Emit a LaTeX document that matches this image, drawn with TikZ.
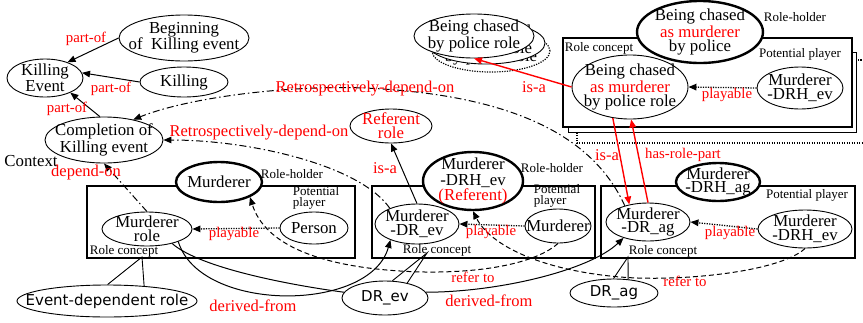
\documentclass[tikz,border=0pt]{standalone}
\usepackage{fontspec}
\setmainfont{Liberation Serif}
\newfontfamily\dvsans{DejaVu Sans}
\usetikzlibrary{shapes.geometric,arrows.meta}
\begin{document}
\begin{tikzpicture}[x=1pt,y=-1pt,
  ell/.style 2 args={draw, ellipse, fill=white, inner sep=0pt,
    minimum width=#1, minimum height=#2, line width=0.9pt},
  holder/.style={line width=2.4pt},
  ntxt/.style={font=\fontsize{16.8}{13.8}\selectfont, align=center, inner sep=0pt},
  stxt/.style={font=\dvsans\fontsize{15}{15}\selectfont, inner sep=0pt},
  et/.style={label={[ntxt]center:{#1}}},
  eb/.style={label={[ntxt,yshift=2pt]center:{#1}}},
  es/.style={label={[stxt]center:{#1}}},
  small/.style={font=\fontsize{13}{11.5}\selectfont, align=left, inner sep=0pt},
  rl/.style={text=red, font=\fontsize{14.8}{15}\selectfont, inner sep=0pt},
  rlb/.style={text=red, font=\fontsize{16.5}{16}\selectfont, inner sep=0pt},
  frame/.style={line width=2.6pt},
  tipA/.style={-{Triangle[length=8pt,width=6.5pt]}},
  arr/.style={tipA, line width=1pt},
  dotarr/.style={tipA, line width=1.3pt, dash pattern=on 1.2pt off 1.3pt},
  redarr/.style={tipA, draw=red, line width=1.4pt},
  dd/.style={line width=1pt, dash pattern=on 7pt off 3pt on 1.5pt off 3pt},
  dsh/.style={line width=0.9pt, dash pattern=on 5pt off 3pt}
]
\useasboundingbox (0,0) rectangle (863,322);

% ---- frames of the role concepts ----
\draw[line width=1.2pt, dash pattern=on 1.2pt off 1.3pt, fill=white] (577,60) rectangle (870,143);
\draw[line width=1pt, fill=white] (568,52) rectangle (856,132);
\draw[frame, fill=white] (563,38) rectangle (852,127);
\draw[frame] (87,186) rectangle (355,258);
\draw[frame] (372,186) rectangle (595,258);
\draw[frame] (601,186) rectangle (855,258);

% ---- killing event and its parts ----
\node[ell={76}{38}, et={Killing\\Event}] (KE) at (45,78) {};
\node[ell={130}{46}, et={Beginning\\of~~Killing event}] (BKE) at (184,38) {};
\node[ell={88}{30}, et={Killing}] (KIL) at (184,82) {};
\node[ell={118}{46}, et={Completion of\\Killing event}] (CKE) at (104,140) {};
\node[ntxt] (ctx) at (31,161) {Context};

% ---- being chased by police ----
\node[ell={118}{42}, dash pattern=on 1.2pt off 1.3pt, line width=1.2pt, eb={Being chased\\by police role}] (BC3) at (491,51) {};
\node[ell={118}{42}, eb={Being chased\\by police role}] (BC2) at (486,43) {};
\node[ell={120}{44}, et={Being chased\\by police role}] (BCPR) at (474,36) {};
\node[ell={126}{62}, holder, et={Being chased\\\textcolor{red}{as murderer}\\by police}] (BCMRH) at (700,32) {};
\node[small] (trh) at (795,17) {Role-holder};
\node[small] (trc) at (599,48) {Role concept};
\node[small] (tpp) at (800,54) {Potential player};
\node[ell={116}{64}, et={Being chased\\\textcolor{red}{as murderer}\\by police role}] (BCMPR) at (630,87) {};
\node[ell={86}{42}, et={Murderer\\-DRH\_ev}] (MRHev3) at (800,88) {};

% ---- left role concept ----
\node[ell={86}{40}, holder, et={Murderer}] (MRH) at (219,182) {};
\node[small] (lrh) at (292,174) {Role-holder};
\node[small] (lpp) at (316,198) {Potential\\player};
\node[ell={68}{32}, et={Person}] (PER) at (314,228) {};
\node[ell={90}{34}, et={Murderer\\role}] (MR) at (147,229) {};
\node[small] (lrc) at (124,251) {Role concept};

% ---- middle role concept ----
\node[ell={82}{34}, label={[ntxt,text=red]center:{Referent\\role}}] (RR) at (391,126) {};
\node[small] (mrh) at (552,168) {Role-holder};
\node[small] (mpp) at (557,196) {Potential\\player};
\node[ell={100}{58}, holder, label={[ntxt,font=\fontsize{16.8}{15.5}\selectfont]center:{Murderer\\-DRH\_ev\\\textcolor{red}{(Referent)}}}] (MRef) at (473,181) {};
\node[ell={66}{34}, et={Murderer}] (MPP) at (558,226) {};
\node[ell={84}{40}, et={Murderer\\-DR\_ev}] (MDRev) at (417,224) {};
\node[small] (mrc) at (437,250) {Role concept};

% ---- right role concept ----
\node[ell={84}{38}, holder, et={Murderer\\-DRH\_ag}] (MRHag) at (718,182) {};
\node[small] (rpp) at (807,195) {Potential player};
\node[ell={94}{38}, et={Murderer\\-DRH\_ev}] (MRHev2) at (805,229) {};
\node[ell={84}{38}, et={Murderer\\-DR\_ag}] (MDRag) at (648,222) {};
\node[small] (rrc) at (663,251) {Role concept};

% ---- kinds of role concept ----
\node[ell={180}{32}, es={Event-dependent role}] (EDR) at (107,301) {};
\node[ell={86}{34}, es={DR\_ev}] (DRev) at (385,298) {};
\node[ell={88}{28}, es={DR\_ag}] (DRag) at (614,293) {};

\coordinate (tipE) at (142,257);
\coordinate (tipD) at (427,253);
\coordinate (tipG) at (628,257);
\draw[line width=0.9pt] (EDR.88) -- (tipE) -- (EDR.22);
\draw[line width=0.9pt] (DRev.67) -- (tipD) -- (DRev.34);
\draw[line width=0.9pt] (DRag.92) -- (tipG) -- (DRag.44);

% ---- part-of ----
\draw[arr] (BKE.west) -- (KE.35);
\draw[arr] (KIL.west) -- (KE.8);
\draw[arr] (CKE.100) -- (KE.-30);

% ---- dependence ----
\draw[dd, arr] (MR.north) -- (CKE.south);
\draw[dd, arr] (MDRev.150) .. controls (360,165) and (250,140) .. (CKE.east);
\draw[dd, arr] (MDRag.145) .. controls (595,140) and (520,95) .. (365,88)
   .. controls (290,85) and (190,97) .. (CKE.35);

% ---- is-a, playable, has-role-part ----
\draw[arr] (MDRev.north) -- (RR.south);
\draw[dotarr] (PER.west) -- (MR.east);
\draw[dotarr] (MPP.west) -- (MDRev.east);
\draw[dotarr] (MRHev2.west) -- (MDRag.east);
\draw[dotarr] (MRHev3.west) -- (BCMPR.east);
\draw[redarr] (BCMPR.west) -- (BCPR.south);
\draw[redarr] (BCMPR.241) -- (MDRag.137);
\draw[redarr] (MDRag.90) -- (BCMPR.272);

% ---- refer to ----
\draw[dsh, arr] (MPP.south) .. controls (530,268) and (460,275) .. (400,271)
   .. controls (320,266) and (265,245) .. (MRH.-26);
\draw[dsh, arr] (MRHev2.south) .. controls (780,272) and (680,282) .. (620,277)
   .. controls (540,270) and (490,245) .. (MRef.south);

% ---- derived-from ----
\draw[arr] (MR.-22) .. controls (200,313) and (370,313) .. (MDRev.-149);
\draw[line width=1pt] (MR.-30) .. controls (200,268) and (290,285) .. (DRev.172);
\draw[arr] (DRev.8) .. controls (500,292) and (590,270) .. (MDRag.-147);

% ---- relation names ----
\node[rl] (l1) at (86,39) {part-of};
\node[rl] (l2) at (111,89) {part-of};
\node[rl] (l3) at (67,109) {part-of};
\node[rlb] (l4) at (86,173) {depend-on};
\node[rlb] (l5) at (259,133) {Retrospectively-depend-on};
\node[rlb] (l6) at (365,89) {Retrospectively-depend-on};
\node[rlb] (l7) at (385,168) {is-a};
\node[rlb] (l8) at (534,87) {is-a};
\node[rlb] (l9) at (607,155) {is-a};
\node[rl] (l10) at (683,155) {has-role-part};
\node[rl] (l11) at (234,234) {playable};
\node[rl] (l12) at (491,232) {playable};
\node[rl] (l13) at (730,233) {playable};
\node[rl] (l14) at (727,95) {playable};
\node[rl] (l15) at (473,277) {refer to};
\node[rl] (l16) at (685,281) {refer to};
\node[rlb] (l17) at (253,306) {derived-from};
\node[rlb] (l18) at (489,301) {derived-from};
\end{tikzpicture}
\end{document}
